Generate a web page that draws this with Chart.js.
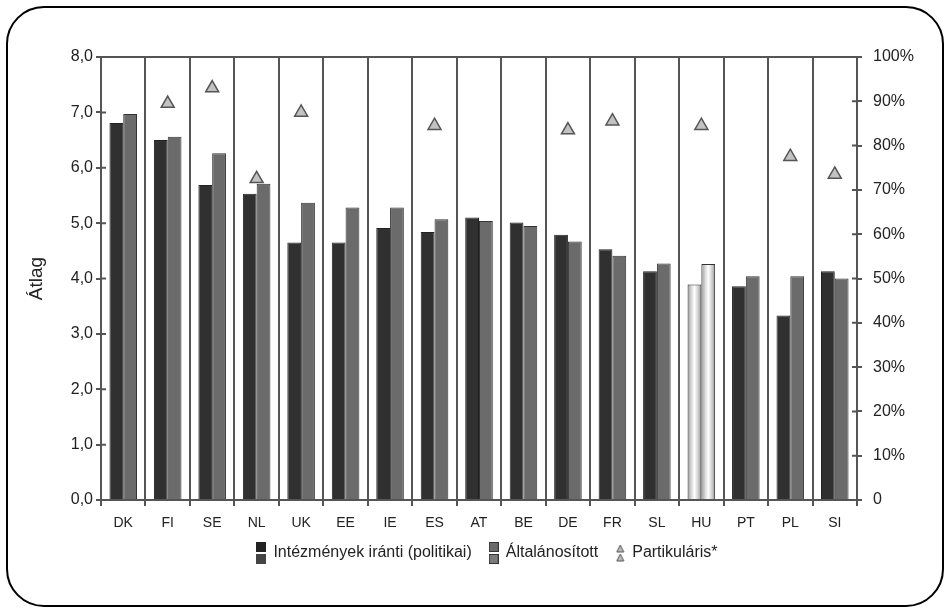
<!DOCTYPE html>
<html lang="hu">
<head>
  <meta charset="UTF-8">
  <title>Bizalom</title>
  <script src="https://cdn.jsdelivr.net/npm/chart.js"></script>
  <style>
    body { margin: 0; background: #fff; }
    #wrap { position: relative; width: 950px; height: 613px; }
    #frame { position: absolute; left: 6px; top: 6px; width: 934px; height: 597px;
             border: 2px solid #000; border-radius: 38px; pointer-events: none; }
  </style>
</head>
<body>
<div id="wrap">
  <canvas id="chart" width="950" height="613"></canvas>
  <div id="frame"></div>
</div>
<script>
  const countries = ["DK", "FI", "SE", "NL", "UK", "EE", "IE", "ES", "AT", "BE", "DE", "FR", "SL", "HU", "PT", "PL", "SI"];
  const intezmenyek = [6.81, 6.50, 5.69, 5.53, 4.65, 4.65, 4.91, 4.84, 5.10, 5.01, 4.79, 4.53, 4.13, 3.89, 3.86, 3.33, 4.13];
  const altalanositott = [6.97, 6.56, 6.26, 5.71, 5.37, 5.28, 5.28, 5.07, 5.04, 4.95, 4.67, 4.41, 4.27, 4.26, 4.04, 4.04, 4.00];
  const partikularis = [null, 89.5, 93, 72.5, 87.5, null, null, 84.5, null, null, 83.5, 85.5, null, 84.5, null, 77.5, 73.5];
  const leftTicks = [0, 1, 2, 3, 4, 5, 6, 7, 8];
  const rightTicks = [0, 10, 20, 30, 40, 50, 60, 70, 80, 90, 100];

  const FONT = "'Liberation Sans', Arial, sans-serif";
  const AXIS = '#555';
  const HU = countries.indexOf("HU");

  // kis legend ikonok
  function icon(draw, w, h) {
    const c = document.createElement('canvas');
    c.width = w; c.height = h;
    draw(c.getContext('2d'));
    return c;
  }
  const icon1 = icon(g => {
    g.fillStyle = '#222'; g.fillRect(0, 0, 10, 10);
    g.fillStyle = '#444'; g.fillRect(0, 12, 10, 10);
  }, 10, 22);
  const icon2 = icon(g => {
    g.fillStyle = '#333'; g.fillRect(0, 0, 10, 10); g.fillRect(0, 12, 10, 10);
    g.fillStyle = '#6b6b6b'; g.fillRect(1, 1, 8, 8);
    g.fillStyle = '#7a7a7a'; g.fillRect(1, 13, 8, 8);
  }, 10, 22);
  const icon3 = icon(g => {
    [1, 10].forEach(y0 => {
      g.beginPath(); g.moveTo(4.5, y0); g.lineTo(8, y0 + 7); g.lineTo(1, y0 + 7); g.closePath();
      g.fillStyle = '#bbb'; g.fill();
      g.strokeStyle = '#555'; g.lineWidth = 1; g.stroke();
    });
  }, 9, 18);
  const icons = [icon1, icon2, icon3];

  // HU oszlopok: világos, csíkos kitöltés
  function fill(base, which) {
    return function (ctx) {
      if (ctx.dataIndex !== HU) return base;
      const chart = ctx.chart;
      const xs = chart.scales.x;
      if (!chart.chartArea || !xs) return '#d0d0d0';
      const cat = xs.width / countries.length;
      const bw = cat * 0.62 / 2;
      const cx = xs.getPixelForValue(ctx.dataIndex) + (which === 0 ? -bw / 2 : bw / 2);
      const gr = chart.ctx.createLinearGradient(cx - bw / 2, 0, cx + bw / 2, 0);
      gr.addColorStop(0, '#9a9a9a');
      gr.addColorStop(0.3, '#dcdcdc');
      gr.addColorStop(0.5, '#ffffff');
      gr.addColorStop(0.7, '#dcdcdc');
      gr.addColorStop(1, '#9a9a9a');
      return gr;
    };
  }

  const frameLines = {
    id: 'frameLines',
    afterDraw(chart) {
      const { ctx, chartArea: a } = chart;
      ctx.save();
      ctx.strokeStyle = AXIS;
      ctx.lineWidth = 2;
      ctx.beginPath();
      ctx.moveTo(a.left - 1, a.top);
      ctx.lineTo(a.right + 1, a.top);
      ['y', 'y2'].forEach(id => {
        const s = chart.scales[id];
        s.ticks.forEach((t, i) => {
          const py = s.getPixelForTick(i);
          if (id === 'y') { ctx.moveTo(a.left, py); ctx.lineTo(a.left + 5, py); }
          else { ctx.moveTo(a.right - 5, py); ctx.lineTo(a.right, py); }
        });
      });
      ctx.stroke();
      ctx.restore();
    }
  };

  Chart.defaults.font.family = FONT;
  Chart.defaults.font.size = 16;
  Chart.defaults.color = '#222';

  new Chart(document.getElementById('chart'), {
    type: 'bar',
    data: {
      labels: countries,
      datasets: [
        {
          label: 'Intézmények iránti (politikai)',
          data: intezmenyek,
          backgroundColor: fill('#303030', 0),
          borderColor: '#222',
          borderWidth: 1,
          yAxisID: 'y',
          categoryPercentage: 0.62,
          barPercentage: 1.0
        },
        {
          label: 'Általánosított',
          data: altalanositott,
          backgroundColor: fill('#6b6b6b', 1),
          borderColor: '#333',
          borderWidth: 1,
          yAxisID: 'y',
          categoryPercentage: 0.62,
          barPercentage: 1.0
        },
        {
          type: 'line',
          label: 'Partikuláris*',
          data: partikularis,
          showLine: false,
          yAxisID: 'y2',
          pointStyle: 'triangle',
          pointRadius: 7.5,
          pointBackgroundColor: '#c2c2c2',
          pointBorderColor: '#555',
          pointBorderWidth: 1.5,
          backgroundColor: '#c2c2c2',
          borderColor: '#555',
          order: -1
        }
      ]
    },
    options: {
      responsive: false,
      animation: false,
      layout: { padding: { top: 57, left: 25, right: 0, bottom: 42 } },
      plugins: {
        tooltip: { enabled: false },
        legend: {
          position: 'bottom',
          labels: {
            usePointStyle: true,
            pointStyleWidth: 8,
            padding: 18,
            color: '#222',
            font: { size: 16 },
            sort: (a, b) => a.datasetIndex - b.datasetIndex,
            generateLabels(chart) {
              const items = Chart.defaults.plugins.legend.labels.generateLabels(chart);
              items.forEach(it => { it.pointStyle = icons[it.datasetIndex]; });
              return items;
            }
          }
        }
      },
      scales: {
        x: {
          offset: true,
          grid: { offset: true, color: AXIS, lineWidth: 2, tickLength: 6, drawOnChartArea: true },
          border: { color: AXIS, width: 2 },
          ticks: { padding: 9, color: '#222', font: { size: 14 } },
          afterFit(s) { s.height = 27; }
        },
        y: {
          position: 'left',
          min: leftTicks[0],
          max: leftTicks[leftTicks.length - 1],
          afterBuildTicks(s) { s.ticks = leftTicks.map(v => ({ value: v })); },
          grid: { drawOnChartArea: false, color: AXIS, lineWidth: 2, tickLength: 5 },
          border: { color: AXIS, width: 2 },
          ticks: { padding: 3, color: '#222', font: { size: 16 }, callback: v => v.toFixed(1).replace('.', ',') },
          title: { display: true, text: 'Átlag', color: '#222', font: { size: 19 }, padding: 0 },
          afterFit(s) { s.width = 76; }
        },
        y2: {
          position: 'right',
          min: rightTicks[0],
          max: rightTicks[rightTicks.length - 1],
          afterBuildTicks(s) { s.ticks = rightTicks.map(v => ({ value: v })); },
          grid: { drawOnChartArea: false, color: AXIS, lineWidth: 2, tickLength: 5 },
          border: { color: AXIS, width: 2 },
          ticks: { padding: 11, color: '#222', font: { size: 16 }, callback: v => v === 0 ? '0' : v + '%' },
          afterFit(s) { s.width = 93; }
        }
      }
    },
    plugins: [frameLines]
  });
</script>
</body>
</html>
